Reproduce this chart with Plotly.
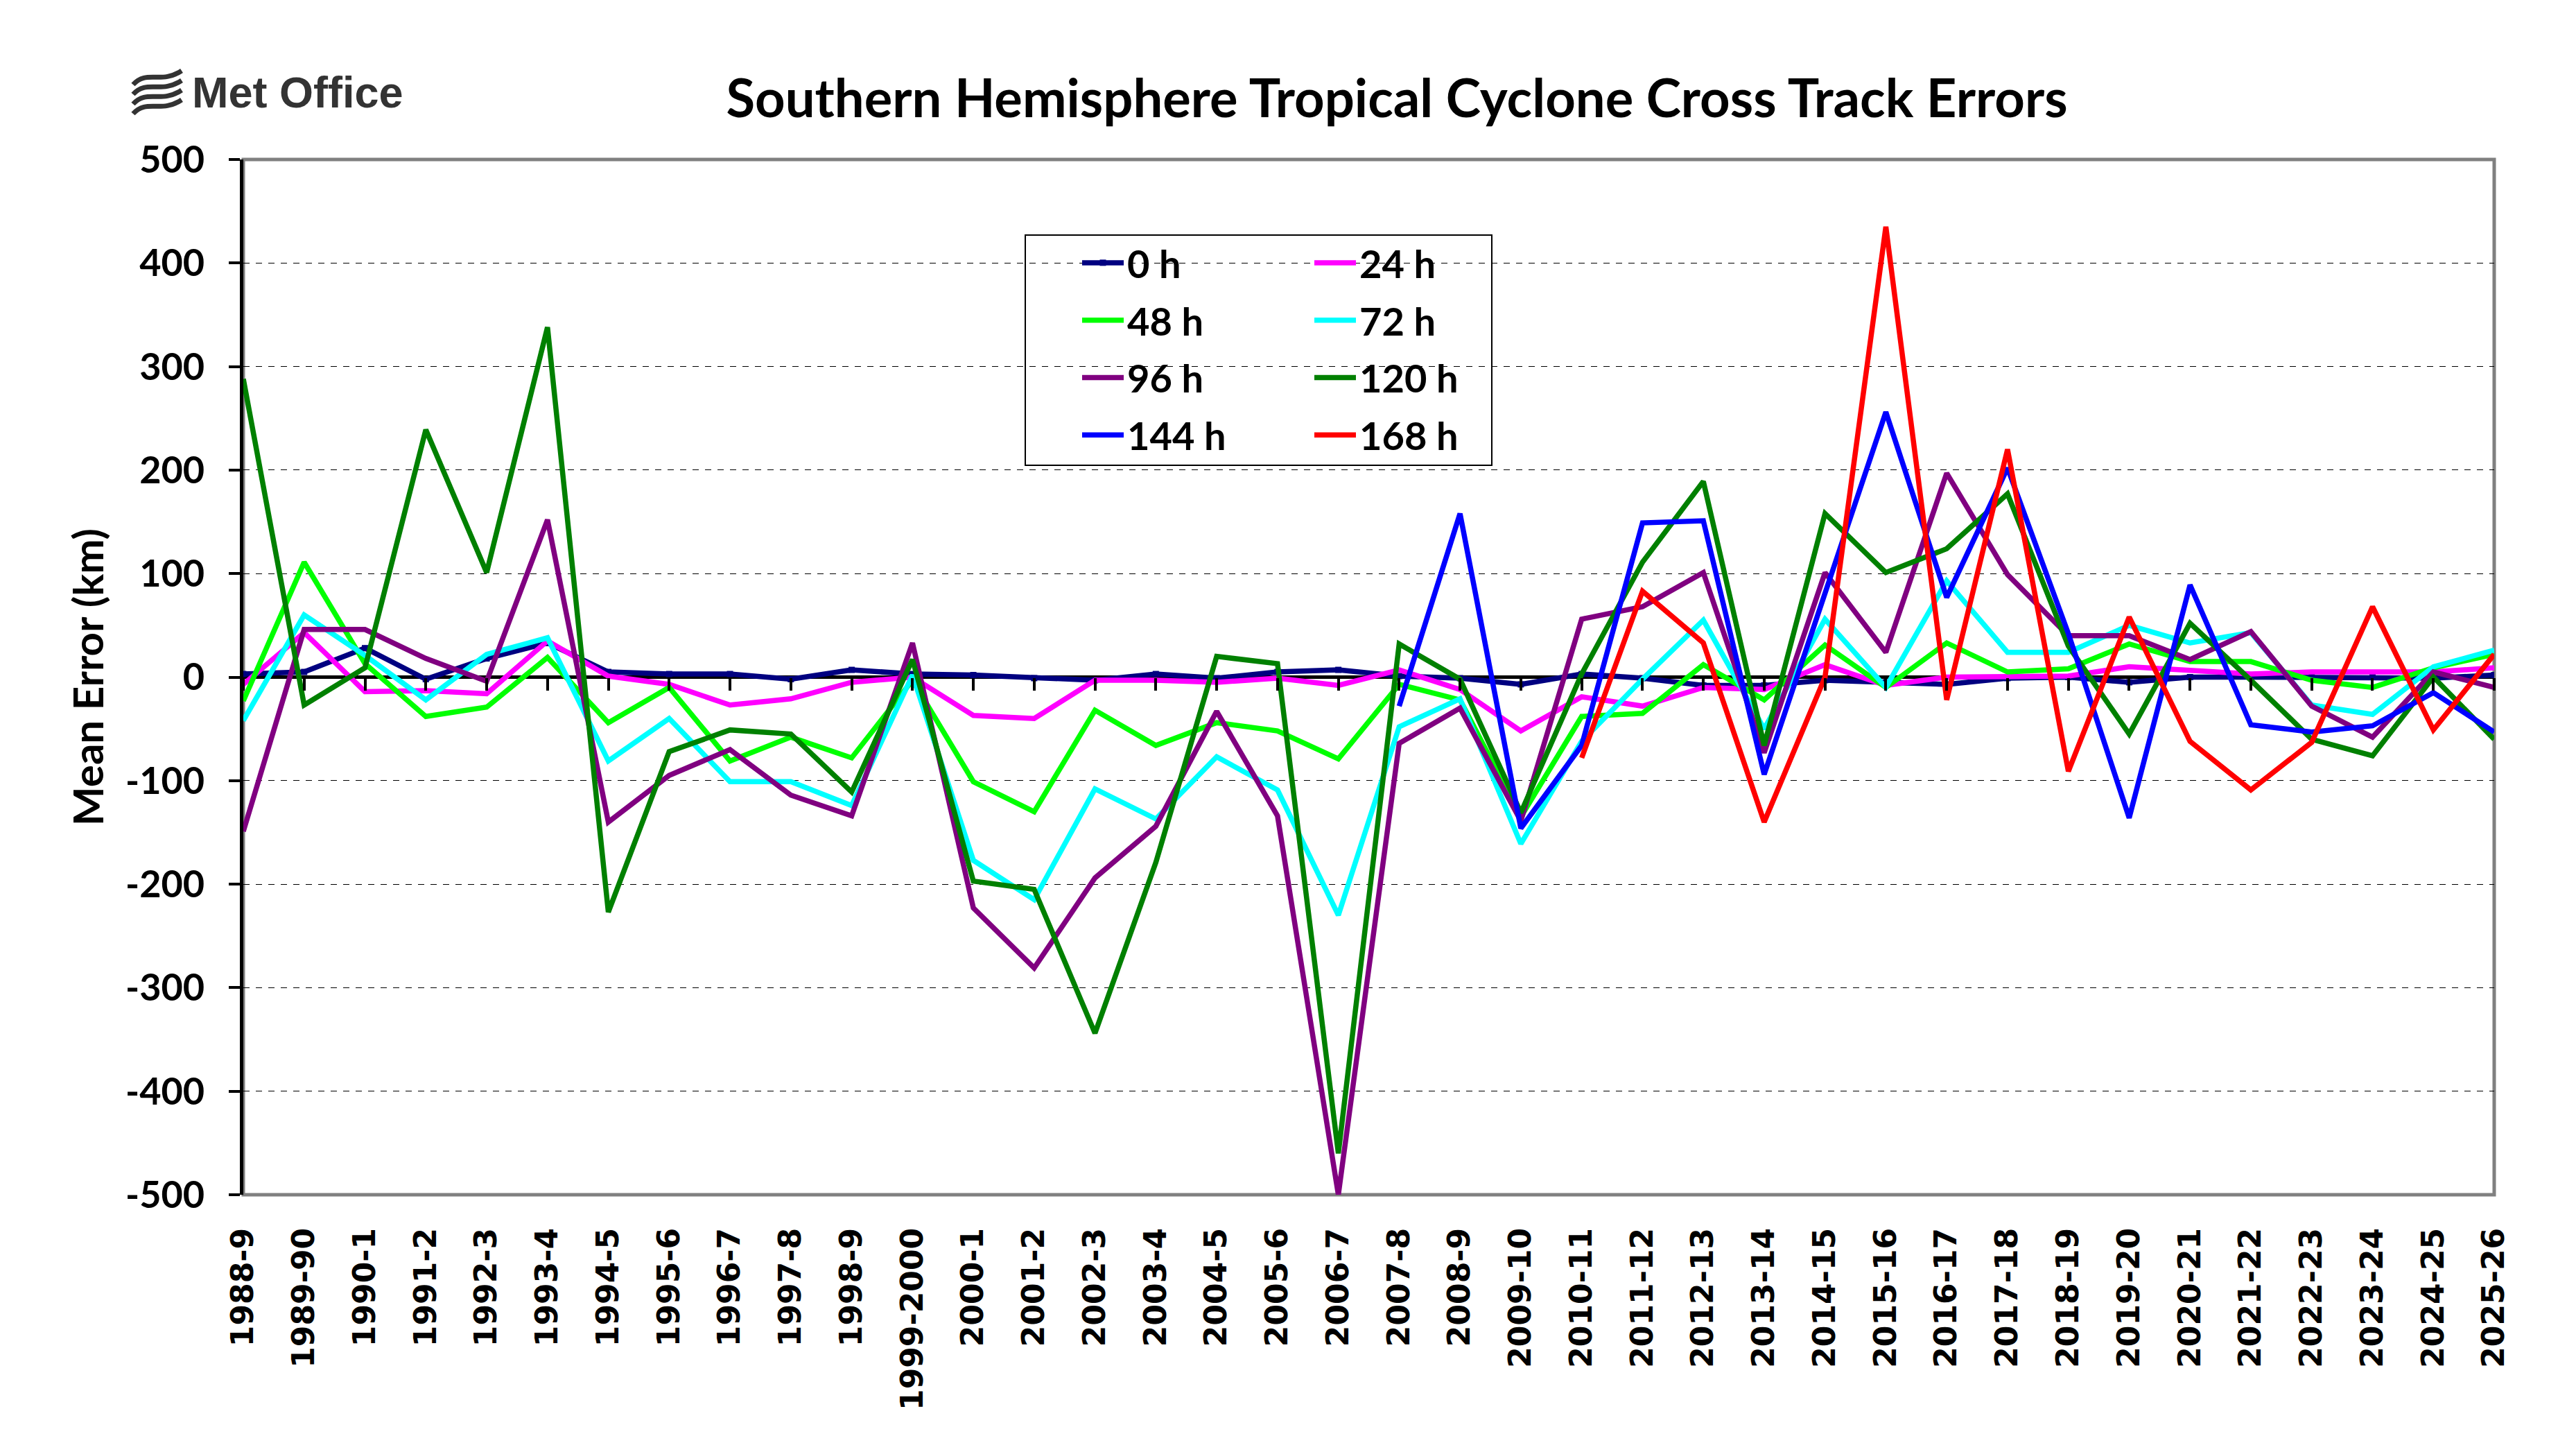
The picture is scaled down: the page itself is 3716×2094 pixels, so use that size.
import plotly.graph_objects as go

categories = ["1988-9", "1989-90", "1990-1", "1991-2", "1992-3", "1993-4", "1994-5", "1995-6",
              "1996-7", "1997-8", "1998-9", "1999-2000", "2000-1", "2001-2", "2002-3", "2003-4",
              "2004-5", "2005-6", "2006-7", "2007-8", "2008-9", "2009-10", "2010-11", "2011-12",
              "2012-13", "2013-14", "2014-15", "2015-16", "2016-17", "2017-18", "2018-19",
              "2019-20", "2020-21", "2021-22", "2022-23", "2023-24", "2024-25", "2025-26"]

err_0h = [3, 5, 28, -2, 18, 33, 5, 3, 3, -2, 7, 3, 2, -1, -3, 3, -1, 5, 7, 1, -1, -7, 3, -1,
          -8, -8, -3, -5, -7, -1, 0, -5, 0, 0, 0, 0, -1, 2]
err_24h = [-7, 43, -14, -13, -16, 35, 1, -7, -27, -21, -5, 0, -37, -40, -3, -3, -5, -1, -8, 7,
           -12, -52, -19, -28, -10, -12, 12, -8, 0, 0, 1, 10, 7, 3, 5, 5, 5, 9]
err_48h = [-23, 111, 13, -38, -29, 19, -44, -10, -81, -58, -78, -3, -101, -130, -32, -66, -44,
           -52, -79, -7, -22, -135, -38, -35, 12, -22, 31, -10, 33, 5, 8, 32, 15, 15, -3, -10, 9, 22]
err_72h = [-42, 60, 21, -22, 22, 38, -81, -40, -101, -101, -124, 2, -177, -215, -108, -137, -77,
           -109, -230, -48, -21, -161, -62, -2, 55, -50, 56, -10, 93, 24, 24, 50, 33, 43, -27, -36, 10, 26]
err_96h = [-149, 46, 46, 18, -4, 152, -140, -95, -70, -114, -134, 33, -223, -281, -194, -144, -33,
           -134, -500, -64, -30, -139, 56, 68, 101, -73, 101, 24, 197, 99, 40, 40, 17, 44, -28, -58, 5, -10]
err_120h = [288, -27, 9, 239, 101, 338, -227, -72, -51, -55, -111, 17, -197, -205, -344, -179, 20,
            13, -460, 32, -2, -131, 3, 111, 189, -66, 158, 101, 124, 177, 30, -55, 52, -3, -60, -76, 0, -60]
err_144h = [None] * 19 + [-28, 158, -146, -66, 149, 151, -94, 83, 256, 77, 202, 42, -136, 89, -46,
                          -53, -47, -15, -53]
err_168h = [None] * 22 + [-78, 83, 33, -140, 0, 435, -22, 220, -91, 58, -62, -109, -63, 68, -51, 22]

series_names = ["0 h", "24 h", "48 h", "72 h", "96 h", "120 h", "144 h", "168 h"]
series_values = [err_0h, err_24h, err_48h, err_72h, err_96h, err_120h, err_144h, err_168h]
series_colors = ["#000080", "#FF00FF", "#00FF00", "#00FFFF", "#800080", "#008000", "#0000FF", "#FF0000"]

y_tickvals = [500, 400, 300, 200, 100, 0, -100, -200, -300, -400, -500]
y_ticktext = ["500", "400", "300", "200", "100", "0", "-100", "-200", "-300", "-400", "-500"]

W, H = 3716, 2094
ML, MR, MT, MB = 351, 118, 230, 371
PW, PH = W - ML - MR, H - MT - MB


def px(X):
    return (X - ML) / PW


def py(Y):
    return (H - MB - Y) / PH


fig = go.Figure()
for k, (name, vals, col) in enumerate(zip(series_names, series_values, series_colors)):
    legend = "legend" if k % 2 == 0 else "legend2"
    fig.add_trace(go.Scatter(
        x=categories, y=vals, name=name, mode="lines+markers" if k == 0 else "lines",
        line=dict(color=col, width=7.5),
        marker=dict(symbol="square", size=9, color=col),
        legend=legend, legendgroup=name, connectgaps=False,
    ))

# invisible trace for the category axis drawn at zero
fig.add_trace(go.Scatter(x=categories, y=[0] * len(categories), xaxis="x2", mode="lines",
                         line=dict(width=0), showlegend=False, hoverinfo="skip"))

font_main = "Lato, 'Open Sans', sans-serif"

fig.update_layout(
    width=W, height=H,
    margin=dict(l=ML, r=MR, t=MT, b=MB),
    paper_bgcolor="white", plot_bgcolor="white",
    title=dict(text="Southern Hemisphere Tropical Cyclone Cross Track Errors",
               font=dict(family=font_main, size=76, color="black", weight="bold"),
               x=px(2015), xref="paper", xanchor="center", y=1 - 142 / H, yanchor="middle"),
    xaxis=dict(type="category", range=[0, len(categories) - 1], showgrid=False,
               tickangle=-90, tickfont=dict(family="'DejaVu Sans', Verdana, sans-serif", size=44,
                                            color="black", weight="bold"),
               ticks="", showline=False, ticklabelstandoff=38, zeroline=False),
    xaxis2=dict(type="category", matches="x", overlaying="x", anchor="free", position=0.5,
                showticklabels=False, ticks="outside", ticklen=18, tickwidth=4, tickcolor="black",
                showline=False, showgrid=False, zeroline=False, side="bottom"),
    yaxis=dict(range=[-500, 500], tickvals=y_tickvals, ticktext=y_ticktext,
               tickfont=dict(family=font_main, size=54, color="black", weight="bold"),
               ticks="outside", ticklen=16, tickwidth=4, tickcolor="black",
               showline=True, linecolor="black", linewidth=5,
               showgrid=True, gridcolor="black", gridwidth=1, griddash="dash",
               zeroline=True, zerolinecolor="black", zerolinewidth=5,
               ticklabelstandoff=24,
               title=dict(text="Mean Error (km)", standoff=14,
                          font=dict(family=font_main, size=60, color="black", weight="bold"))),
    legend=dict(x=px(1556), y=py(336), xanchor="left", yanchor="top",
                bgcolor="rgba(0,0,0,0)", borderwidth=0, tracegroupgap=7,
                font=dict(family=font_main, size=56, color="black", weight="bold"), itemwidth=60),
    legend2=dict(x=px(1891), y=py(336), xanchor="left", yanchor="top",
                 bgcolor="rgba(0,0,0,0)", borderwidth=0, tracegroupgap=7,
                 font=dict(family=font_main, size=56, color="black", weight="bold"), itemwidth=60),
    showlegend=True,
)

shapes = [
    # plot frame (grey)
    dict(type="rect", xref="paper", yref="paper", x0=0, x1=1, y0=0, y1=1,
         line=dict(color="#808080", width=5), layer="below"),
    # legend box
    dict(type="rect", xref="paper", yref="paper", x0=px(1479), x1=px(2152), y0=py(671), y1=py(339),
         line=dict(color="black", width=2), fillcolor="white", layer="below"),
]

# Met Office wave icon
for j in range(4):
    yo = 104 + j * 14
    x0, x1 = 192, 262
    path = (f"M{px(x0)},{py(yo + 18)} C{px(x0 + 20)},{py(yo - 4)} {px(x0 + 40)},{py(yo + 18)} "
            f"{px(x1)},{py(yo - 2)}")
    shapes.append(dict(type="path", xref="paper", yref="paper", path=path,
                       line=dict(color="#333333", width=7)))
fig.update_layout(shapes=shapes)

fig.add_annotation(text="Met Office", xref="paper", yref="paper", x=px(275), y=py(133),
                   xanchor="left", yanchor="middle", showarrow=False,
                   font=dict(family="'Liberation Sans Narrow', 'Arial Narrow', sans-serif", size=63,
                             color="#333333", weight="bold"))

fig.write_html("out.html")
